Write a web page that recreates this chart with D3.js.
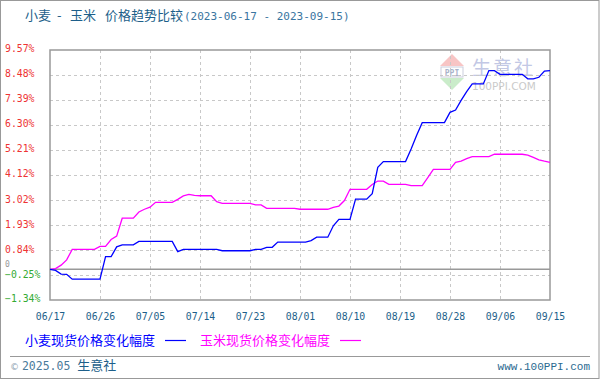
<!DOCTYPE html>
<html><head><meta charset="utf-8">
<script src="https://cdn.jsdelivr.net/npm/d3@7"></script>
<style>
html,body{margin:0;padding:0;background:#fff;}
svg{display:block;}
</style></head>
<body>
<script>
// ---- data ----
const titleParts = ["小麦", "-", "玉米", "价格趋势比较"];
const titleRange = "(2023-06-17 - 2023-09-15)";
const startDate = "2023-06-17";
const endDate = "2023-09-15";
const xTickLabels = ["06/17","06/26","07/05","07/14","07/23","08/01","08/10","08/19","08/28","09/06","09/15"];
const yTicks = [9.57, 8.48, 7.39, 6.30, 5.21, 4.12, 3.02, 1.93, 0.84, -0.25, -1.34];
const seriesNames = ["小麦现货价格变化幅度", "玉米现货价格变化幅度"];
// daily % change vs 2023-06-17 (one value per day)
const wheat = [
  0, -0.05, -0.21, -0.22, -0.43, -0.43, -0.43, -0.43, -0.43, -0.43,
  0.55, 0.55, 0.98, 1.07, 1.07, 1.07, 1.22, 1.22, 1.22, 1.22,
  1.22, 1.22, 1.22, 0.77, 0.87, 0.87, 0.87, 0.87, 0.87, 0.87,
  0.87, 0.81, 0.81, 0.81, 0.81, 0.81, 0.81, 0.87, 0.87, 0.96,
  0.96, 1.19, 1.19, 1.19, 1.19, 1.19, 1.19, 1.25, 1.40, 1.40,
  1.40, 1.90, 2.18, 2.18, 2.18, 3.06, 3.06, 3.06, 3.30, 4.45,
  4.70, 4.70, 4.70, 4.70, 4.70, 5.25, 5.85, 6.40, 6.40, 6.40,
  6.40, 6.40, 6.85, 6.95, 7.37, 7.75, 8.09, 8.09, 8.09, 8.67,
  8.67, 8.51, 8.51, 8.51, 8.51, 8.51, 8.31, 8.31, 8.38, 8.65,
  8.67
];
const corn = [
  0, 0.03, 0.18, 0.41, 0.87, 0.87, 0.87, 0.87, 0.87, 1.00,
  1.00, 1.30, 1.45, 2.23, 2.23, 2.23, 2.50, 2.62, 2.71, 2.92,
  2.92, 2.92, 2.92, 3.05, 3.20, 3.27, 3.23, 3.21, 3.21, 3.21,
  2.95, 2.88, 2.88, 2.88, 2.88, 2.88, 2.88, 2.81, 2.81, 2.66,
  2.66, 2.66, 2.66, 2.66, 2.66, 2.62, 2.62, 2.62, 2.62, 2.62,
  2.62, 2.70, 2.76, 3.00, 3.49, 3.49, 3.49, 3.49, 3.70, 3.85,
  3.85, 3.71, 3.71, 3.71, 3.71, 3.65, 3.65, 3.65, 4.00, 4.36,
  4.36, 4.36, 4.36, 4.67, 4.72, 4.83, 4.92, 4.92, 4.92, 4.92,
  5.02, 5.02, 5.02, 5.02, 5.02, 5.02, 4.98, 4.88, 4.78, 4.72,
  4.67
];

// ---- layout ----
const W = 600, H = 380;
const M = {left: 50, right: 550, top: 50, bottom: 300};
const parse = d3.timeParse("%Y-%m-%d");
const d0 = parse(startDate), d1 = parse(endDate);
const dates = d3.timeDay.range(d0, d3.timeDay.offset(d1, 1));

const x = d3.scaleTime().domain([d0, d1]).range([M.left, M.right]);
const y = d3.scaleLinear().domain([yTicks[yTicks.length-1], yTicks[0]]).range([M.bottom, M.top]);
const fmt = d3.timeFormat("%m/%d");
const tickDates = xTickLabels.map(l => dates.find(d => fmt(d) === l));

const svg = d3.select("body").append("svg").attr("width", W).attr("height", H);
const mono = "'DejaVu Sans Mono', 'Liberation Mono', monospace";
const cjk = "'Noto Sans CJK SC', 'Noto Sans', sans-serif";

// outer border
svg.append("rect").attr("x",0.5).attr("y",0.5).attr("width",W-1.5).attr("height",H-2)
  .attr("fill","#fff").attr("stroke","#999").attr("stroke-width",1);

// title
const titleX = [25, 57, 70, 105];
titleParts.forEach((p,i)=>{
  svg.append("text").attr("x",titleX[i]).attr("y",20).attr("font-size",13)
    .attr("font-family",cjk).attr("fill","#1d5f8a").text(p);
});
svg.append("text").attr("x",184).attr("y",20).attr("font-size",11).attr("font-family",mono)
  .attr("fill","#3a75a0").text(titleRange);

// watermark
const wm = svg.append("g").attr("opacity",0.6);
wm.append("path").attr("d","M452,54 L464,66 L440,66 Z").attr("fill","#f4a0a0");
wm.append("rect").attr("x",441).attr("y",67).attr("width",22).attr("height",10).attr("fill","#ffffff").attr("stroke","#aab0c8");
wm.append("text").attr("x",452).attr("y",75.5).attr("text-anchor","middle").attr("font-size",8).attr("font-weight","bold")
  .attr("font-family",mono).attr("fill","#7080a8").text("PPI");
wm.append("path").attr("d","M440,78 L464,78 L452,90 Z").attr("fill","#a8e0a8");
wm.append("text").attr("x",472).attr("y",75).attr("font-size",19).attr("font-family",cjk)
  .attr("fill","#9aa4d4").attr("letter-spacing",2).text("生意社");
wm.append("text").attr("x",472).attr("y",90).attr("font-size",10.5).attr("font-family","'DejaVu Sans', sans-serif")
  .attr("fill","#a8a8a8").text("100PPI.COM");

// grid
const grid = svg.append("g");
grid.selectAll("line.h").data(yTicks.slice(1, -1)).join("line")
  .attr("x1",M.left).attr("x2",M.right)
  .attr("y1",d=>Math.round(y(d))+0.5).attr("y2",d=>Math.round(y(d))+0.5)
  .attr("stroke","#c8c8c8").attr("stroke-dasharray","3,3");
grid.selectAll("line.v").data(tickDates.slice(1, -1)).join("line")
  .attr("y1",M.top).attr("y2",M.bottom)
  .attr("x1",d=>Math.round(x(d))+0.5).attr("x2",d=>Math.round(x(d))+0.5)
  .attr("stroke","#c8c8c8").attr("stroke-dasharray","3,3");

// zero line
svg.append("line").attr("x1",M.left).attr("x2",M.right).attr("y1",y(0)).attr("y2",y(0))
  .attr("stroke","#999").attr("stroke-width",1.5);

// plot border
svg.append("rect").attr("x",M.left).attr("y",M.top).attr("width",M.right-M.left).attr("height",M.bottom-M.top)
  .attr("fill","none").attr("stroke","#999").attr("stroke-width",1.5);

// y axis labels (left-aligned at x=5)
const yAxis = d3.axisLeft(y).tickValues(yTicks).tickSize(0).tickPadding(0)
  .tickFormat(d => d3.format(".2f")(d) + "%");
const ga = svg.append("g").call(yAxis);
ga.select(".domain").remove();
ga.selectAll("text").attr("font-family",mono).attr("font-size",9.8)
  .attr("text-anchor","start").attr("x",5)
  .attr("fill", d => d < 0 ? "#33aa33" : "#ee3333")
  .attr("dy", d => d === -0.25 ? "0.3em" : "0.2em");
svg.append("text").attr("x",5).attr("y",y(0)-2.5).attr("font-family",mono).attr("font-size",8)
  .attr("fill","#999").text("0");

// x axis labels
const xAxis = d3.axisBottom(x).tickValues(tickDates).tickSize(0).tickPadding(0).tickFormat(fmt);
const gx = svg.append("g").attr("transform",`translate(0,${M.bottom+13})`).call(xAxis);
gx.select(".domain").remove();
gx.selectAll("text").attr("font-family",mono).attr("font-size",9.8).attr("fill","#1d5f8a");

// lines
const line = d3.line().x((d,i)=>x(dates[i])).y(d=>y(d));
svg.append("path").datum(corn).attr("d",line).attr("fill","none").attr("stroke","#ff00ff").attr("stroke-width",1.3);
svg.append("path").datum(wheat).attr("d",line).attr("fill","none").attr("stroke","#0000ff").attr("stroke-width",1.3);

// legend
const legColors = ["#0000ff","#ff00ff"];
const legX = [25, 200];
seriesNames.forEach((n,i)=>{
  svg.append("text").attr("x",legX[i]).attr("y",345).attr("font-family",cjk).attr("font-size",13)
    .attr("fill",legColors[i]).text(n);
  svg.append("line").attr("x1",legX[i]+140).attr("x2",legX[i]+161).attr("y1",340.5).attr("y2",340.5)
    .attr("stroke",legColors[i]).attr("stroke-width",1.2);
});

// footer
svg.append("line").attr("x1",10).attr("x2",590).attr("y1",356.5).attr("y2",356.5).attr("stroke","#999");
const f = svg.append("text").attr("x",10).attr("y",370).attr("font-size",13);
f.append("tspan").attr("font-family","'DejaVu Sans', sans-serif").attr("font-size",9).attr("fill","#8aa0b0").text("© ");
f.append("tspan").attr("font-family",mono).attr("font-size",11.5).attr("fill","#4a7a9a").text("2025.05 ");
f.append("tspan").attr("font-family",cjk).attr("fill","#1d5f8a").text("生意社");
svg.append("text").attr("x",590).attr("y",370).attr("text-anchor","end").attr("font-family","'Liberation Mono', monospace")
  .attr("font-size",11).attr("fill","#2a6a90").text("www.100PPI.com");
</script>
</body></html>
